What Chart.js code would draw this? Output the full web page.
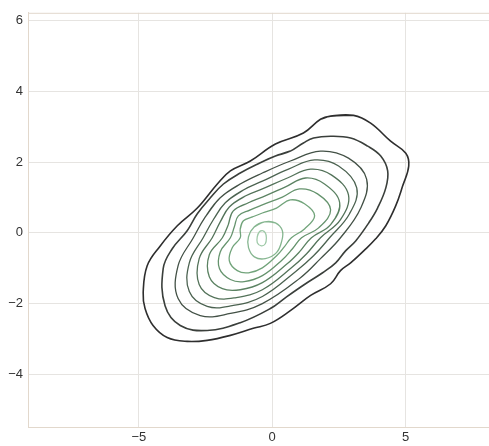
<!DOCTYPE html>
<html>
<head>
<meta charset="utf-8">
<script src="https://cdn.jsdelivr.net/npm/chart.js@4/dist/chart.umd.min.js"></script>
<style>
    html, body { margin: 0; padding: 0; background: #ffffff; }
    #wrap { width: 489px; height: 446px; }
</style>
</head>
<body>
<div id="wrap"><canvas id="kde-chart"></canvas></div>
<script>
// Tick values
const xTicks = [-5, 0, 5];
const yTicks = [-4, -2, 0, 2, 4, 6];

// Contour rings, outermost first, as [x, y]
const ring1 = [[2.19, 3.30], [3.05, 3.32], [3.69, 3.10], [4.44, 2.59], [5.01, 2.25], [5.12, 1.89], [4.89, 1.32], [4.63, 0.76], [4.26, 0.20], [3.88, -0.17], [3.43, -0.51], [2.94, -0.85], [2.56, -1.07], [2.19, -1.44], [1.44, -1.77], [0.68, -2.20], [-0.07, -2.56], [-0.71, -2.70], [-1.57, -2.90], [-2.44, -3.04], [-3.19, -3.07], [-3.94, -2.96], [-4.47, -2.62], [-4.77, -2.14], [-4.84, -1.69], [-4.69, -0.93], [-4.20, -0.37], [-3.56, 0.20], [-2.81, 0.70], [-2.06, 1.38], [-1.57, 1.75], [-0.82, 2.03], [0.12, 2.51], [1.17, 2.82], [1.81, 3.21]];
const ring2 = [[0.12, 2.17], [0.68, 2.31], [1.17, 2.54], [1.55, 2.68], [2.19, 2.73], [2.94, 2.68], [3.58, 2.45], [4.07, 2.17], [4.33, 1.75], [4.26, 1.27], [3.95, 0.70], [3.62, 0.28], [3.13, -0.23], [2.75, -0.51], [2.38, -0.85], [1.89, -1.13], [1.25, -1.44], [0.50, -1.83], [-0.07, -2.14], [-1.20, -2.54], [-2.44, -2.76], [-3.45, -2.62], [-4.02, -2.06], [-4.09, -1.01], [-3.75, -0.45], [-3.19, 0.06], [-2.81, 0.54], [-2.32, 0.99], [-1.83, 1.38], [-1.20, 1.69], [-0.56, 1.94]];
const ring3 = [[-1.95, 0.99], [-1.20, 1.38], [-0.37, 1.69], [0.68, 2.03], [1.81, 2.31], [2.86, 2.11], [3.54, 1.52], [3.32, 0.70], [2.56, -0.14], [1.81, -0.73], [1.06, -1.27], [-0.37, -2.00], [-1.57, -2.28], [-2.70, -2.34], [-3.53, -1.86], [-3.53, -0.93], [-2.96, -0.14], [-2.51, 0.45]];
const ring4 = [[-1.76, 0.85], [-1.08, 1.21], [-0.37, 1.46], [0.61, 1.80], [1.59, 2.06], [2.49, 1.89], [3.17, 1.27], [2.90, 0.54], [2.15, -0.14], [1.55, -0.65], [0.87, -1.10], [-0.37, -1.80], [-1.50, -2.06], [-2.44, -2.08], [-3.11, -1.66], [-3.11, -0.85], [-2.59, -0.14], [-2.21, 0.37]];
const ring5 = [[-1.61, 0.73], [-1.01, 1.04], [-0.37, 1.24], [0.57, 1.55], [1.44, 1.80], [2.23, 1.63], [2.86, 1.07], [2.56, 0.37], [1.81, -0.14], [1.29, -0.59], [0.72, -0.99], [-0.37, -1.61], [-1.35, -1.83], [-2.17, -1.83], [-2.74, -1.46], [-2.74, -0.73], [-2.25, -0.14], [-1.95, 0.31]];
const ring6 = [[-1.46, 0.62], [-0.89, 0.85], [-0.37, 1.01], [0.50, 1.30], [1.25, 1.55], [1.96, 1.38], [2.53, 0.85], [2.19, 0.23], [1.47, -0.14], [1.02, -0.54], [0.57, -0.87], [-0.37, -1.41], [-1.20, -1.61], [-1.87, -1.58], [-2.36, -1.24], [-2.36, -0.62], [-1.87, -0.14], [-1.65, 0.23]];
const ring7 = [[-1.27, 0.48], [-0.82, 0.65], [-0.37, 0.79], [0.38, 1.01], [1.02, 1.24], [1.70, 1.10], [2.19, 0.65], [1.74, 0.14], [1.10, -0.14], [0.76, -0.45], [0.38, -0.76], [-0.37, -1.21], [-1.05, -1.38], [-1.57, -1.32], [-1.98, -1.01], [-1.95, -0.54], [-1.57, -0.14], [-1.42, 0.17]];
const ring8 = [[-1.08, 0.34], [-0.74, 0.45], [-0.37, 0.56], [0.16, 0.70], [0.68, 0.93], [1.21, 0.82], [1.59, 0.48], [1.21, 0.11], [0.72, -0.14], [0.46, -0.39], [0.20, -0.62], [-0.37, -0.99], [-0.89, -1.13], [-1.31, -1.07], [-1.61, -0.79], [-1.50, -0.42], [-1.20, -0.14], [-1.20, 0.11]];
const ring9 = [[-0.29, 0.31], [0.12, 0.28], [0.38, 0.06], [0.35, -0.25], [0.16, -0.56], [-0.26, -0.73], [-0.67, -0.68], [-0.89, -0.42], [-0.89, -0.11], [-0.67, 0.17]];
const ring10 = [[-0.37, 0.06], [-0.26, 0.00], [-0.22, -0.14], [-0.26, -0.31], [-0.41, -0.37], [-0.56, -0.28], [-0.56, -0.11], [-0.48, 0.03]];

const rings = [ring1, ring2, ring3, ring4, ring5, ring6, ring7, ring8, ring9, ring10];

// Colors, dark outside to light green inside
const ringColors = ['#2e2e2e', '#3a3f3b', '#435146', '#4b6250', '#537259', '#5b8262', '#65936d', '#72a47b', '#86b690', '#a0caa9'];

const chartColors = {
    grid: '#e6e4e1',
    border: '#e2d8cc',
    text: '#333333'
};

function toPoints(ring) {
    // wrap around so the spline stays smooth where the loop closes
    const last = ring[ring.length - 1];
    return [last].concat(ring, [ring[0], ring[1]]).map(p => ({ x: p[0], y: p[1] }));
}

function minusSign(value) {
    return String(value).replace('-', '\u2212');
}

const topBorder = {
    id: 'topBorder',
    afterDraw(chart) {
        const { ctx, chartArea } = chart;
        ctx.save();
        ctx.strokeStyle = chartColors.border;
        ctx.lineWidth = 1;
        ctx.beginPath();
        ctx.moveTo(chartArea.left, chartArea.top + 0.5);
        ctx.lineTo(chartArea.right, chartArea.top + 0.5);
        ctx.stroke();
        ctx.restore();
    }
};

const ctx = document.getElementById('kde-chart');

new Chart(ctx, {
    type: 'scatter',
    data: {
        datasets: rings.map((ring, i) => ({
            data: toPoints(ring),
            showLine: true,
            borderColor: ringColors[i],
            borderWidth: i < 2 ? 1.6 : 1.3,
            pointRadius: 0,
            tension: 0.4,
            fill: false
        }))
    },
    options: {
        responsive: true,
        maintainAspectRatio: false,
        animation: false,
        layout: {
            padding: { top: 11, right: 0, bottom: 0, left: 0 }
        },
        plugins: {
            legend: { display: false },
            tooltip: { enabled: false }
        },
        scales: {
            x: {
                type: 'linear',
                min: -9.16,
                max: 8.13,
                afterBuildTicks: scale => { scale.ticks = xTicks.map(v => ({ value: v })); },
                afterFit: scale => { scale.height = 19; },
                grid: { color: chartColors.grid, drawTicks: false },
                border: { color: chartColors.border },
                ticks: {
                    color: chartColors.text,
                    padding: 3,
                    font: { family: 'Liberation Sans', size: 13 },
                    callback: minusSign
                }
            },
            y: {
                type: 'linear',
                min: -5.49,
                max: 6.22,
                afterBuildTicks: scale => { scale.ticks = yTicks.map(v => ({ value: v })); },
                afterFit: scale => { scale.width = 28; },
                grid: { color: chartColors.grid, drawTicks: false },
                border: { color: chartColors.border },
                ticks: {
                    color: chartColors.text,
                    padding: 5,
                    font: { family: 'Liberation Sans', size: 13 },
                    callback: minusSign
                }
            }
        }
    },
    plugins: [topBorder]
});
</script>
</body>
</html>
